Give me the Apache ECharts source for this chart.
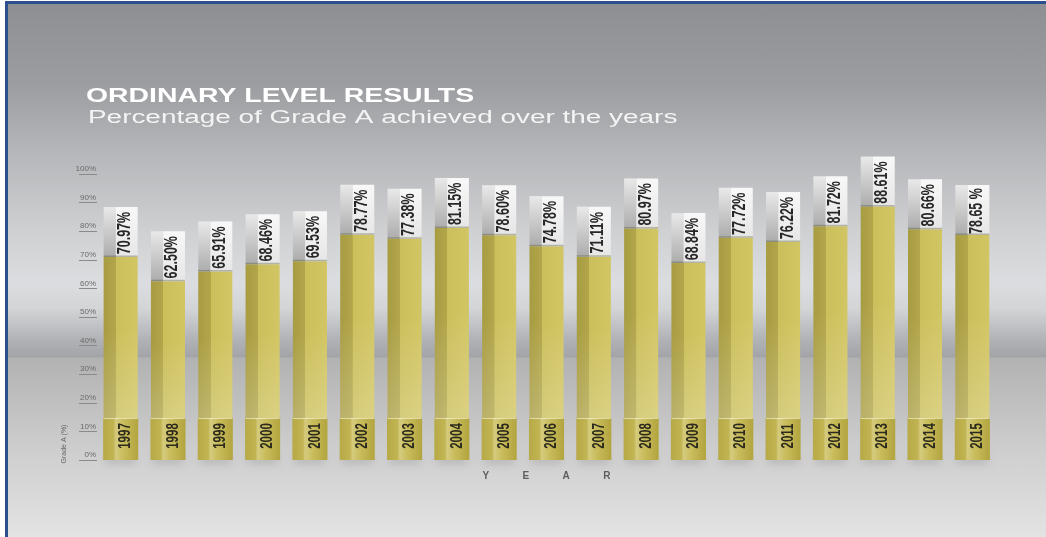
<!DOCTYPE html>
<html>
<head>
<meta charset="utf-8">
<script src="https://cdn.jsdelivr.net/npm/echarts@6/dist/echarts.min.js"></script>
<style>
html,body{margin:0;padding:0;background:#ffffff;width:1046px;height:537px;overflow:hidden;}
#bg{position:absolute;left:5px;top:1px;width:1041px;height:536px;box-sizing:border-box;
border-left:3px solid #2c4f8e;border-top:3px solid #2c4f8e;
background:linear-gradient(to bottom,#8e8f93 0px,#9c9da1 80px,#b6b7ba 150px,#d0d1d3 230px,#dcdde0 280px,#d3d4d6 305px,#b2b3b7 335px,#a3a4a8 353px,#b2b2b2 354px,#bdbdbd 390px,#cfcfcf 450px,#e4e4e4 536px);}
#chart{position:absolute;left:0;top:0;width:1046px;height:537px;}
</style>
</head>
<body>
<div id="bg"></div>
<div id="chart"></div>
<script>
// ---- data ----
const years = ['1997','1998','1999','2000','2001','2002','2003','2004','2005','2006','2007','2008','2009','2010','2011','2012','2013','2014','2015'];
const values = [70.97,62.50,65.91,68.46,69.53,78.77,77.38,81.15,78.60,74.78,71.11,80.97,68.84,77.72,76.22,81.72,88.61,80.66,78.65];
const valueLabels = ['70.97%','62.50%','65.91%','68.46%','69.53%','78.77%','77.38%','81.15%','78.60%','74.78%','71.11%','80.97%','68.84%','77.72%','76.22%','81.72%','88.61%','80.66%','78.65 %'];
const yMin = 0, yMax = 100, yStep = 10;

const LG = (x0,y0,x1,y1,stops) => new echarts.graphic.LinearGradient(x0,y0,x1,y1,stops.map(s=>({offset:s[0],color:s[1]})));

function renderItem(params, api) {
  const idx = params.dataIndex;
  const cat = api.value(0), val = api.value(1);
  const pTop = api.coord([cat, val]);
  const pZero = api.coord([cat, 0]);
  const band = api.size([1, 0])[0];
  const w = band * 0.72;
  const x0 = pTop[0] - w / 2;
  const capH = 50, baseH = 42;
  const baseTop = pZero[1] - baseH;
  const bodyTop = pTop[1];
  const split = w * 0.36;
  const txtFont = '"Liberation Sans", Arial, sans-serif';
  return {
    type: 'group',
    children: [
      {type:'rect', shape:{x:x0+2, y:pZero[1]-6, width:w-4, height:6},
       style:{fill:'rgba(60,60,60,0.35)', shadowBlur:8, shadowColor:'rgba(0,0,0,0.45)', shadowOffsetY:3}},
      {type:'rect', shape:{x:x0, y:bodyTop, width:w, height:baseTop-bodyTop},
       style:{fill: LG(0,0,1,0,[[0,'#a89c42'],[0.36,'#b2a64b'],[0.365,'#cbbf5c'],[1,'#d2c664']])}},
      {type:'rect', shape:{x:x0, y:bodyTop, width:w, height:baseTop-bodyTop},
       style:{fill: LG(0,0,0,1,[[0,'rgba(255,255,255,0)'],[0.45,'rgba(255,255,255,0)'],[1,'rgba(255,255,255,0.2)']])}},
      {type:'rect', shape:{x:x0, y:bodyTop-capH, width:split, height:capH},
       style:{fill: LG(0,0,0,1,[[0,'#e9e9e9'],[1,'#acacac']])}},
      {type:'rect', shape:{x:x0+split, y:bodyTop-capH, width:w-split, height:capH},
       style:{fill: LG(0,0,0,1,[[0,'#f8f8f8'],[1,'#e6e6e6']])}},
      {type:'rect', shape:{x:x0, y:bodyTop-1.5, width:w, height:1.5},
       style:{fill:'rgba(80,80,50,0.35)'}},
      {type:'rect', shape:{x:x0-0.5, y:baseTop, width:w+1, height:baseH},
       style:{fill: LG(0,0,1,0,[[0,'#b6a946'],[0.3,'#c1b452'],[0.36,'#d5cb7e'],[0.6,'#c8bb5a'],[1,'#b2a53f']])}},
      {type:'rect', shape:{x:x0, y:baseTop, width:w, height:1},
       style:{fill:'rgba(255,255,240,0.55)'}},
      {type:'text', x:x0 + w*0.63, y:bodyTop - capH/2 + 1, rotation:Math.PI/2, scaleY:1.45,
       style:{text:valueLabels[idx], font:'bold 12.5px ' + txtFont, fill:'#272727', align:'center', verticalAlign:'middle'}},
      {type:'text', x:x0 + w*0.65, y:baseTop + baseH/2 - 3, rotation:Math.PI/2, scaleY:1.45,
       style:{text:years[idx], font:'bold 11.5px ' + txtFont, fill:'#2b2a1c', align:'center', verticalAlign:'middle'}}
    ]
  };
}

const chart = echarts.init(document.getElementById('chart'), null, {renderer:'canvas'});
chart.setOption({
  backgroundColor: 'transparent',
  animation: false,
  grid: {left:97, right:50, top:174, bottom:77},
  xAxis: {
    type:'category', data: years,
    axisLine:{show:false}, axisTick:{show:false}, axisLabel:{show:false},
    name:'Y            E            A            R',
    nameLocation:'middle', nameGap:11,
    nameTextStyle:{fontSize:10, fontWeight:'bold', color:'#5e5e5e', fontFamily:'"Liberation Sans", Arial, sans-serif'}
  },
  yAxis: {
    type:'value', min:yMin, max:yMax, interval:yStep,
    axisLine:{show:false}, splitLine:{show:false},
    axisTick:{show:true, length:18, lineStyle:{color:'#8a8a8a', width:1}},
    axisLabel:{formatter:'{value}%', fontSize:8, color:'#6a6a6a', margin:1, verticalAlign:'bottom', padding:[0,0,1,0],
      fontFamily:'"Liberation Sans", Arial, sans-serif'}
  },
  graphic: [
    {type:'text', x:86, y:96, scaleX:1.42,
     style:{text:'ORDINARY LEVEL RESULTS', font:'bold 20px "Liberation Sans", Arial, sans-serif', fill:'#ffffff', verticalAlign:'middle'}},
    {type:'text', x:88, y:118, scaleX:1.55,
     style:{text:'Percentage of Grade A achieved over the years', font:'18px "Liberation Sans", Arial, sans-serif', fill:'#f4f4f4', verticalAlign:'middle'}},
    {type:'text', x:64, y:444, rotation:Math.PI/2,
     style:{text:'Grade A (%)', font:'7px "Liberation Sans", Arial, sans-serif', fill:'#666666', align:'center', verticalAlign:'middle'}}
  ],
  series: [{
    type:'custom',
    renderItem: renderItem,
    clip: false,
    encode: {x:0, y:1},
    data: values.map((v, i) => [i, v])
  }]
});
</script>
</body>
</html>
